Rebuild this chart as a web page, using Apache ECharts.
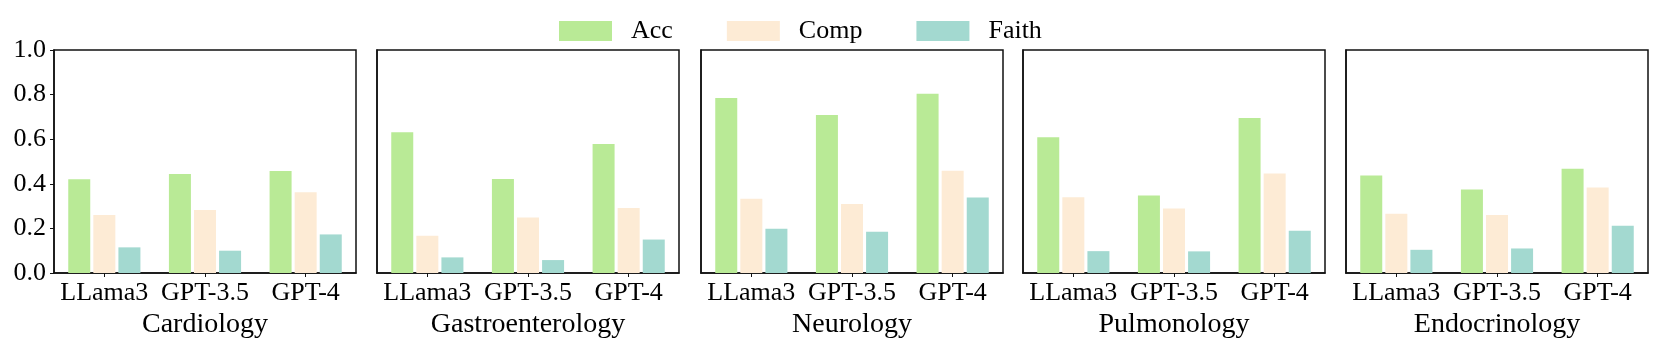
<!DOCTYPE html>
<html>
<head>
<meta charset="utf-8">
<script src="https://cdn.jsdelivr.net/npm/echarts@6/dist/echarts.min.js"></script>
<style>
  html, body { margin: 0; padding: 0; background: #fff; }
  #main { width: 1661px; height: 350px; }
</style>
</head>
<body>
<div id="main"></div>
<script>
// 数据
var models = ['LLama3', 'GPT-3.5', 'GPT-4'];
var domains = ['Cardiology', 'Gastroenterology', 'Neurology', 'Pulmonology', 'Endocrinology'];
var metrics = ['Acc', 'Comp', 'Faith'];
var yTicks = [0, 0.2, 0.4, 0.6, 0.8, 1.0];

// 每个科室: [LLama3, GPT-3.5, GPT-4]
var accData = [
  [0.42, 0.444, 0.457],
  [0.631, 0.422, 0.579],
  [0.785, 0.709, 0.804],
  [0.609, 0.348, 0.695],
  [0.437, 0.374, 0.467]
];
var compData = [
  [0.26, 0.283, 0.362],
  [0.167, 0.249, 0.291],
  [0.333, 0.309, 0.458],
  [0.340, 0.289, 0.446],
  [0.266, 0.260, 0.383]
];
var faithData = [
  [0.115, 0.10, 0.173],
  [0.070, 0.058, 0.150],
  [0.198, 0.185, 0.339],
  [0.098, 0.097, 0.189],
  [0.104, 0.110, 0.212]
];

var colors = ['#b9ea96', '#fdebd5', '#a3d9d0'];
var font = '"Liberation Serif", "Times New Roman", serif';

var chart = echarts.init(document.getElementById('main'));

var panelLefts = [54, 377, 701, 1023, 1346];
var grids = [], xAxes = [], yAxes = [], series = [];
var allData = [accData, compData, faithData];

domains.forEach(function (d, i) {
  grids.push({
    left: panelLefts[i], top: 50, width: 302, height: 223,
    show: true, borderColor: '#111', borderWidth: 1.5, containLabel: false
  });
  xAxes.push({
    type: 'category', gridIndex: i, data: models,
    name: d, nameLocation: 'middle', nameGap: 33,
    nameTextStyle: { fontFamily: font, fontSize: 28, color: '#000' },
    axisLine: { show: true, lineStyle: { color: '#111', width: 1.5 } },
    axisTick: { show: true, alignWithLabel: true, length: 4, lineStyle: { color: '#111' } },
    axisLabel: { interval: 0, fontFamily: font, fontSize: 26, color: '#000', margin: 7 },
    splitLine: { show: false }
  });
  yAxes.push({
    type: 'value', gridIndex: i, min: yTicks[0], max: yTicks[yTicks.length - 1], interval: 0.2,
    axisLine: { show: true, lineStyle: { color: '#111', width: 1.5 } },
    axisTick: { show: i === 0, length: 4, lineStyle: { color: '#111' } },
    axisLabel: {
      show: i === 0, fontFamily: font, fontSize: 26, color: '#000', margin: 8,
      formatter: function (v) { return v.toFixed(1); }
    },
    splitLine: { show: false }
  });
  metrics.forEach(function (m, k) {
    series.push({
      name: m, type: 'bar', xAxisIndex: i, yAxisIndex: i,
      data: allData[k][i],
      barWidth: 22, barGap: '14%',
      itemStyle: { color: colors[k] }
    });
  });
});

var option = {
  animation: false,
  color: colors,
  legend: {
    data: metrics,
    left: 554, top: 11,
    itemWidth: 53, itemHeight: 20, itemGap: 54,
    icon: 'rect',
    textStyle: { fontFamily: font, fontSize: 26, color: '#000', lineHeight: 30, padding: [0, 0, 0, 14] }
  },
  grid: grids,
  xAxis: xAxes,
  yAxis: yAxes,
  series: series
};
chart.setOption(option);
</script>
</body>
</html>
